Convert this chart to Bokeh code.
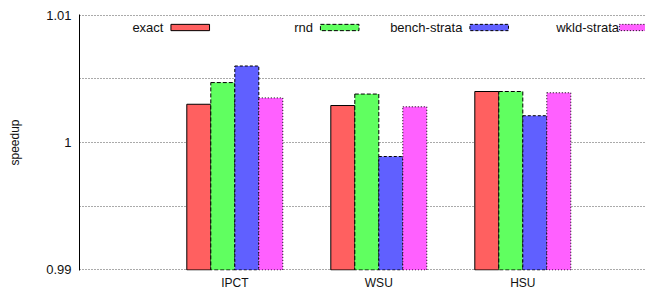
from bokeh.plotting import figure
from bokeh.models import Range1d, FixedTicker, CustomJSTickFormatter, ColumnDataSource
from bokeh.core.properties import value
from bokeh.embed import file_html
from bokeh.resources import INLINE

categories = ["IPCT", "WSU", "HSU"]
series = ["exact", "rnd", "bench-strata", "wkld-strata"]
exact = [1.0030, 1.0029, 1.0040]
rnd = [1.0047, 1.0038, 1.0040]
bench_strata = [1.0060, 0.9989, 1.0021]
wkld_strata = [1.0035, 1.0028, 1.0039]
y_ticks = [0.99, 1.0, 1.01]
y_minor = [0.995, 1.005]

values = [exact, rnd, bench_strata, wkld_strata]
colors = ["#ff6060", "#60ff60", "#6060ff", "#ff60ff"]
dashes = ["solid", "4 2", "3 2", "1 2"]

FONT = "Liberation Sans"
TXT = "#111111"

p = figure(width=645, height=293, output_backend="svg", toolbar_location=None,
           x_range=Range1d(-1.0785, 2.852), y_range=Range1d(0.98996, 1.01004))
p.min_border_left = 79
p.min_border_right = 0
p.min_border_top = 14
p.min_border_bottom = 23
p.outline_line_color = None
p.background_fill_color = "white"

n = len(series)
bw = 1.0 / 6
xs = list(range(len(categories)))
for i, (name, vals) in enumerate(zip(series, values)):
    off = (i - (n - 1) / 2) * bw
    src = ColumnDataSource(dict(x=[x + off for x in xs], top=vals))
    p.vbar(x="x", top="top", bottom=0.99, width=bw, source=src,
           fill_color=colors[i], line_color="black", line_width=1,
           line_dash=dashes[i])

# legend (gnuplot style: text then swatch)
leg_y = 1.00902
leg_h = 0.000247
leg_sw_left = -0.4435
leg_sw_w = 0.268
leg_step = 1.038
leg_gaps = [0.052, 0.052, 0.052, 0.002]
for i, name in enumerate(series):
    l = leg_sw_left + i * leg_step
    p.quad(left=[l], right=[l + leg_sw_w], top=[leg_y + leg_h], bottom=[leg_y - leg_h],
           fill_color=colors[i], line_color="black", line_width=1, line_dash=dashes[i])
    p.text(x=[l - leg_gaps[i]], y=[leg_y], text=[name], text_align="right",
           text_baseline="middle", text_font=value(FONT), text_font_size="13px",
           text_color=TXT)

# axes
p.xaxis.ticker = FixedTicker(ticks=xs)
p.xaxis.major_label_overrides = {i: c for i, c in enumerate(categories)}
p.xaxis.axis_line_color = None
p.xaxis.major_tick_line_color = None
p.xaxis.minor_tick_line_color = None
p.xaxis.major_tick_out = 0
p.xaxis.major_tick_in = 0
p.xaxis.minor_tick_out = 0
p.xaxis.minor_tick_in = 0
p.xaxis.major_label_standoff = 5
p.xaxis.major_label_text_font = FONT
p.xaxis.major_label_text_font_size = "12px"
p.xaxis.major_label_text_color = TXT

p.yaxis.ticker = FixedTicker(ticks=y_ticks, minor_ticks=y_minor)
p.yaxis.formatter = CustomJSTickFormatter(code="return String(Math.round(tick*1000)/1000);")
p.yaxis.axis_line_color = "black"
p.yaxis.axis_line_width = 1
p.yaxis.major_tick_line_color = None
p.yaxis.minor_tick_line_color = None
p.yaxis.major_tick_out = 0
p.yaxis.major_tick_in = 0
p.yaxis.minor_tick_out = 0
p.yaxis.minor_tick_in = 0
p.yaxis.major_label_standoff = 8
p.yaxis.major_label_text_font = FONT
p.yaxis.major_label_text_font_size = "13px"
p.yaxis.major_label_text_color = TXT
p.yaxis.axis_label = "speedup"
p.yaxis.axis_label_text_font = FONT
p.yaxis.axis_label_text_font_size = "12px"
p.yaxis.axis_label_text_font_style = "normal"
p.yaxis.axis_label_text_color = TXT
p.yaxis.axis_label_standoff = 21

p.xgrid.grid_line_color = None
p.ygrid.grid_line_color = "#555555"
p.ygrid.grid_line_dash = "1 2"
p.ygrid.grid_line_width = 1
p.ygrid.minor_grid_line_color = "#555555"
p.ygrid.minor_grid_line_dash = "1 2"
p.ygrid.level = "underlay"

open("out.html", "w").write(file_html(p, INLINE))
